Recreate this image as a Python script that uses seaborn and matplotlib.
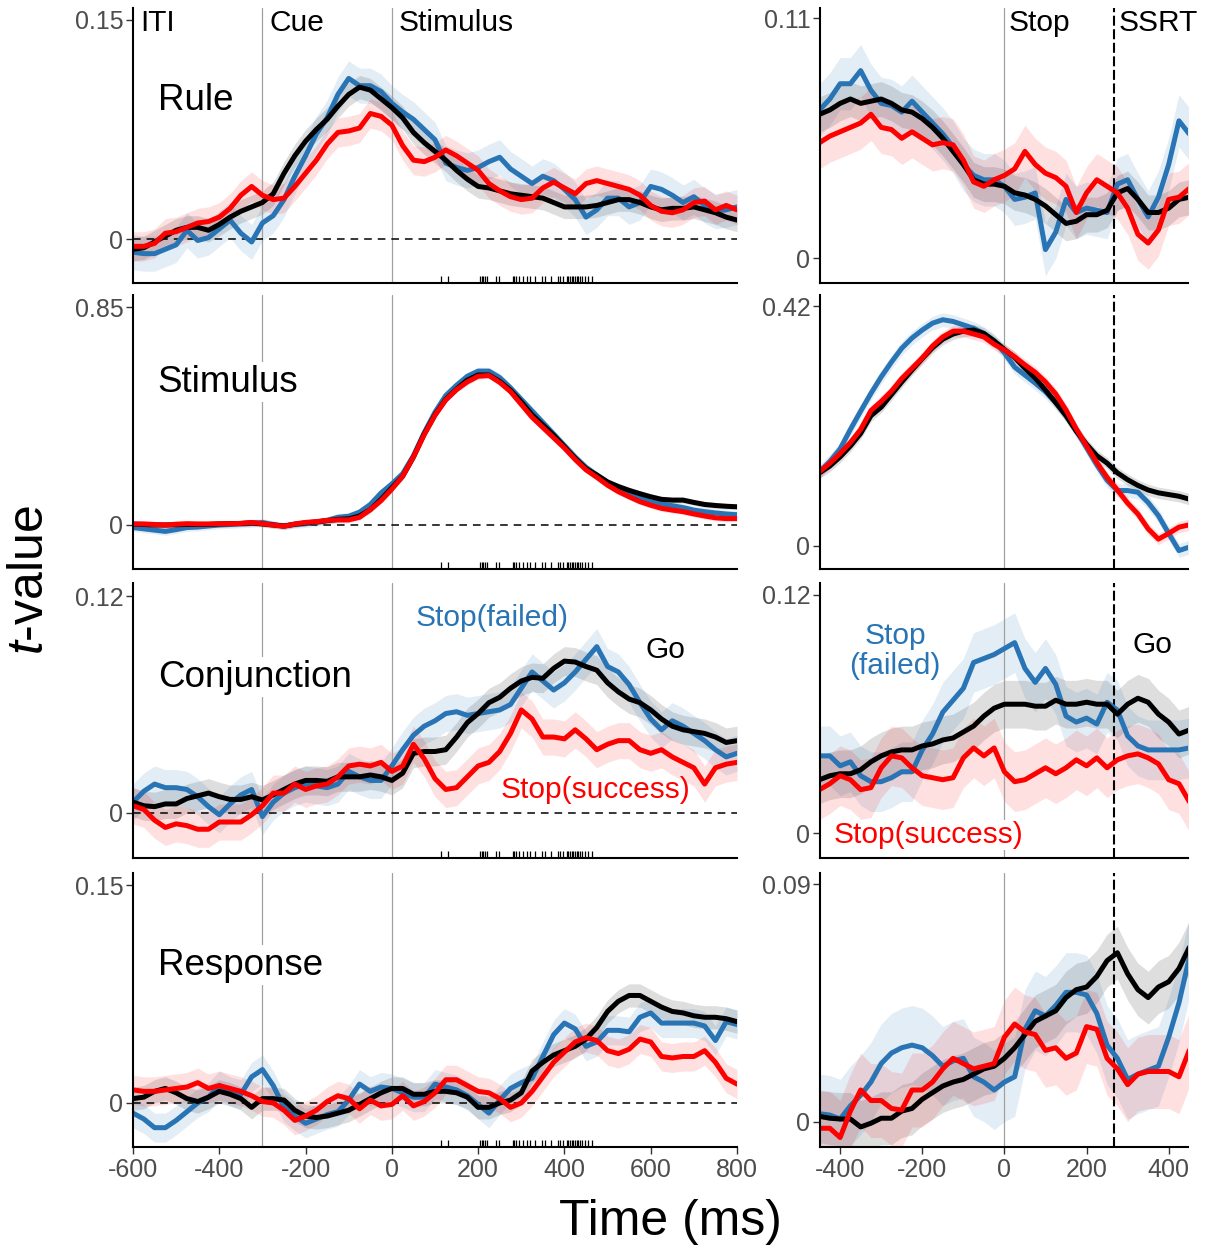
import numpy as np
import pandas as pd
import matplotlib
matplotlib.use("Agg")
import matplotlib.pyplot as plt
import seaborn as sns

sns.set_theme(style="ticks")
plt.rcParams['font.family'] = ['Liberation Sans', 'DejaVu Sans']
plt.rcParams['mathtext.fontset'] = 'custom'
plt.rcParams['mathtext.it'] = 'Liberation Sans:italic'
plt.rcParams['mathtext.rm'] = 'Liberation Sans'
plt.rcParams['axes.unicode_minus'] = False
plt.rcParams['text.color'] = 'black'

# ---------------- data ----------------
time_stim = np.arange(-600, 801, 25)   # stimulus-locked (ms)
time_stop = np.arange(-450, 451, 25)   # stop-signal-locked (ms)

conditions = ["Go", "Stop(failed)", "Stop(success)"]
row_names = ["Rule", "Stimulus", "Conjunction", "Response"]
left_ymax = [0.15, 0.85, 0.12, 0.15]
right_ymax = [0.11, 0.42, 0.12, 0.09]
left_xticks = [-600, -400, -200, 0, 200, 400, 600, 800]
right_xticks = [-400, -200, 0, 200, 400]
event_labels = ["ITI", "Cue", "Stimulus"]
event_times = [-600, -300, 0]
stop_labels = ["Stop", "SSRT"]
ssrt_ms = 266

rug_times = [114, 129, 204, 208, 212, 216, 221, 241, 249, 280, 284, 287, 295, 303,
             314, 320, 331, 347, 355, 370, 384, 389, 396, 405, 409, 413, 417, 420,
             424, 428, 432, 436, 440, 447, 455, 463]

# Left column (stimulus-locked)
rule_go = [-0.007, -0.006, -0.002, 0.002, 0.006, 0.008, 0.008, 0.006, 0.010, 0.015,
           0.019, 0.022, 0.025, 0.031, 0.045, 0.057, 0.067, 0.075, 0.082, 0.091,
           0.099, 0.104, 0.102, 0.096, 0.090, 0.083, 0.073, 0.066, 0.060, 0.054,
           0.047, 0.041, 0.036, 0.035, 0.033, 0.031, 0.030, 0.029, 0.028, 0.025,
           0.022, 0.022, 0.022, 0.023, 0.025, 0.027, 0.027, 0.025, 0.022, 0.020,
           0.021, 0.021, 0.022, 0.020, 0.018, 0.015, 0.013]
rule_fail = [-0.009, -0.010, -0.010, -0.007, -0.004, 0.006, -0.001, 0.001, 0.007, 0.013,
             0.004, -0.002, 0.011, 0.016, 0.027, 0.043, 0.057, 0.072, 0.083, 0.099,
             0.110, 0.105, 0.105, 0.101, 0.093, 0.087, 0.082, 0.075, 0.068, 0.052,
             0.049, 0.047, 0.049, 0.053, 0.056, 0.048, 0.043, 0.038, 0.043, 0.040,
             0.034, 0.027, 0.015, 0.020, 0.028, 0.028, 0.022, 0.025, 0.036, 0.034,
             0.030, 0.025, 0.029, 0.023, 0.019, 0.020, 0.022]
rule_succ = [-0.005, -0.005, -0.003, 0.004, 0.005, 0.008, 0.011, 0.012, 0.015, 0.021,
             0.030, 0.036, 0.030, 0.027, 0.028, 0.036, 0.045, 0.054, 0.065, 0.073,
             0.074, 0.076, 0.086, 0.084, 0.078, 0.064, 0.054, 0.053, 0.056, 0.061,
             0.057, 0.052, 0.047, 0.038, 0.033, 0.029, 0.027, 0.028, 0.035, 0.039,
             0.035, 0.031, 0.038, 0.040, 0.038, 0.036, 0.034, 0.030, 0.023, 0.019,
             0.018, 0.020, 0.025, 0.026, 0.020, 0.023, 0.020]

stim_go = [0.003, 0.002, 0.000, 0.000, 0.001, 0.002, 0.002, 0.002, 0.004, 0.005,
           0.006, 0.008, 0.004, 0.000, -0.004, 0.003, 0.008, 0.012, 0.017, 0.022,
           0.024, 0.035, 0.060, 0.100, 0.145, 0.190, 0.265, 0.355, 0.430, 0.490,
           0.530, 0.565, 0.585, 0.585, 0.560, 0.525, 0.480, 0.430, 0.390, 0.350,
           0.305, 0.260, 0.220, 0.195, 0.168, 0.150, 0.135, 0.122, 0.110, 0.100,
           0.097, 0.097, 0.088, 0.080, 0.076, 0.073, 0.071]
stim_fail = [-0.010, -0.015, -0.020, -0.025, -0.018, -0.010, -0.008, -0.004, 0.000, 0.002,
             0.004, 0.006, 0.010, 0.002, -0.004, 0.002, 0.005, 0.010, 0.018, 0.030,
             0.034, 0.050, 0.080, 0.125, 0.160, 0.200, 0.270, 0.360, 0.440, 0.505,
             0.545, 0.580, 0.600, 0.600, 0.575, 0.535, 0.490, 0.445, 0.400, 0.355,
             0.310, 0.265, 0.225, 0.195, 0.165, 0.140, 0.120, 0.105, 0.090, 0.082,
             0.075, 0.068, 0.058, 0.052, 0.047, 0.043, 0.040]
stim_succ = [0.004, 0.004, 0.002, 0.000, 0.003, 0.005, 0.004, 0.004, 0.005, 0.005,
             0.006, 0.010, 0.005, 0.000, -0.005, 0.004, 0.010, 0.013, 0.018, 0.020,
             0.020, 0.030, 0.060, 0.095, 0.140, 0.190, 0.265, 0.352, 0.428, 0.488,
             0.528, 0.558, 0.580, 0.583, 0.556, 0.520, 0.470, 0.420, 0.380, 0.340,
             0.300, 0.255, 0.215, 0.186, 0.155, 0.130, 0.110, 0.091, 0.077, 0.065,
             0.058, 0.052, 0.043, 0.035, 0.028, 0.025, 0.025]

conj_go = [0.006, 0.004, 0.0035, 0.005, 0.005, 0.008, 0.0095, 0.011, 0.009, 0.0075,
           0.0075, 0.009, 0.0072, 0.010, 0.013, 0.016, 0.018, 0.018, 0.0175, 0.020,
           0.020, 0.020, 0.021, 0.020, 0.018, 0.022, 0.033, 0.034, 0.034, 0.035,
           0.042, 0.050, 0.055, 0.061, 0.064, 0.069, 0.073, 0.075, 0.0745, 0.080,
           0.084, 0.0835, 0.081, 0.079, 0.072, 0.067, 0.063, 0.061, 0.057, 0.052,
           0.048, 0.046, 0.045, 0.044, 0.042, 0.039, 0.040]
conj_fail = [0.006, 0.012, 0.016, 0.014, 0.014, 0.013, 0.009, 0.0035, -0.001, 0.005,
             0.010, 0.013, -0.002, 0.006, 0.011, 0.014, 0.016, 0.015, 0.014, 0.016,
             0.023, 0.020, 0.018, 0.018, 0.026, 0.035, 0.043, 0.048, 0.051, 0.055,
             0.056, 0.054, 0.055, 0.056, 0.057, 0.060, 0.069, 0.078, 0.073, 0.068,
             0.072, 0.078, 0.085, 0.092, 0.081, 0.078, 0.071, 0.061, 0.052, 0.046,
             0.051, 0.048, 0.044, 0.040, 0.035, 0.031, 0.033]
conj_succ = [0.004, 0.002, -0.004, -0.008, -0.006, -0.007, -0.009, -0.009, -0.005, -0.005,
             -0.005, -0.001, 0.004, 0.011, 0.011, 0.016, 0.013, 0.015, 0.016, 0.020,
             0.026, 0.027, 0.026, 0.028, 0.023, 0.026, 0.038, 0.030, 0.019, 0.013,
             0.014, 0.020, 0.026, 0.028, 0.034, 0.044, 0.057, 0.052, 0.042, 0.042,
             0.041, 0.046, 0.041, 0.035, 0.038, 0.040, 0.040, 0.035, 0.033, 0.035,
             0.031, 0.028, 0.025, 0.016, 0.025, 0.027, 0.028]

resp_go = [0.003, 0.004, 0.008, 0.010, 0.007, 0.003, 0.001, 0.004, 0.008, 0.006,
           0.003, -0.003, 0.003, 0.003, 0.002, -0.005, -0.009, -0.010, -0.009, -0.007,
           -0.005, -0.001, 0.003, 0.007, 0.010, 0.010, 0.006, 0.006, 0.008, 0.008,
           0.007, 0.004, -0.003, -0.003, 0.000, 0.002, 0.007, 0.022, 0.028, 0.033,
           0.036, 0.039, 0.044, 0.052, 0.063, 0.070, 0.074, 0.074, 0.070, 0.066,
           0.063, 0.062, 0.060, 0.059, 0.059, 0.058, 0.056]
resp_fail = [-0.007, -0.011, -0.017, -0.017, -0.012, -0.006, 0.000, 0.004, 0.012, 0.008,
             0.006, 0.018, 0.023, 0.012, -0.003, -0.009, -0.014, -0.011, -0.008, -0.006,
             0.002, 0.013, 0.008, 0.011, 0.010, 0.007, 0.004, 0.004, 0.013, 0.011,
             0.009, 0.005, -0.001, -0.007, 0.002, 0.010, 0.014, 0.017, 0.032, 0.047,
             0.055, 0.051, 0.039, 0.042, 0.050, 0.050, 0.049, 0.059, 0.062, 0.055,
             0.055, 0.055, 0.055, 0.053, 0.043, 0.056, 0.054]
resp_succ = [0.009, 0.008, 0.008, 0.009, 0.010, 0.011, 0.014, 0.010, 0.012, 0.010,
             0.008, 0.005, 0.001, 0.000, -0.005, -0.012, -0.009, -0.005, 0.001, 0.005,
             0.003, -0.004, 0.002, -0.002, -0.001, 0.005, -0.002, 0.001, 0.007, 0.016,
             0.016, 0.012, 0.008, 0.007, 0.003, -0.003, 0.000, 0.008, 0.018, 0.028,
             0.035, 0.042, 0.045, 0.043, 0.036, 0.034, 0.037, 0.044, 0.042, 0.032,
             0.031, 0.032, 0.032, 0.036, 0.028, 0.017, 0.013]

# Right column (stop-signal-locked)
srule_go = [0.066, 0.068, 0.071, 0.073, 0.071, 0.072, 0.073, 0.071, 0.068, 0.067,
            0.064, 0.060, 0.055, 0.049, 0.043, 0.036, 0.034, 0.034, 0.033, 0.030,
            0.029, 0.027, 0.024, 0.020, 0.016, 0.017, 0.020, 0.020, 0.022, 0.030,
            0.032, 0.027, 0.021, 0.021, 0.023, 0.027, 0.028]
srule_fail = [0.068, 0.073, 0.080, 0.080, 0.086, 0.077, 0.071, 0.070, 0.067, 0.072,
              0.067, 0.062, 0.057, 0.051, 0.043, 0.038, 0.036, 0.036, 0.033, 0.027,
              0.028, 0.030, 0.004, 0.012, 0.027, 0.021, 0.023, 0.022, 0.021, 0.034,
              0.036, 0.027, 0.019, 0.028, 0.043, 0.063, 0.057]
srule_succ = [0.053, 0.056, 0.058, 0.060, 0.062, 0.066, 0.060, 0.059, 0.055, 0.058,
              0.055, 0.052, 0.053, 0.052, 0.045, 0.035, 0.033, 0.036, 0.038, 0.041,
              0.049, 0.043, 0.039, 0.037, 0.033, 0.021, 0.030, 0.036, 0.033, 0.030,
              0.023, 0.011, 0.007, 0.013, 0.027, 0.028, 0.032]

sstim_go = [0.128, 0.140, 0.156, 0.175, 0.197, 0.228, 0.243, 0.265, 0.287, 0.308,
            0.328, 0.347, 0.362, 0.371, 0.376, 0.378, 0.372, 0.359, 0.344, 0.330,
            0.311, 0.294, 0.273, 0.251, 0.228, 0.201, 0.178, 0.158, 0.145, 0.128,
            0.116, 0.106, 0.098, 0.093, 0.090, 0.087, 0.082]
sstim_fail = [0.130, 0.148, 0.170, 0.204, 0.236, 0.267, 0.296, 0.322, 0.346, 0.364,
              0.378, 0.390, 0.396, 0.393, 0.387, 0.381, 0.372, 0.359, 0.338, 0.313,
              0.299, 0.285, 0.270, 0.251, 0.229, 0.202, 0.172, 0.142, 0.115, 0.097,
              0.097, 0.094, 0.076, 0.053, 0.022, -0.008, -0.002]
sstim_succ = [0.130, 0.145, 0.162, 0.181, 0.204, 0.237, 0.253, 0.271, 0.293, 0.311,
              0.329, 0.350, 0.366, 0.376, 0.376, 0.371, 0.366, 0.353, 0.343, 0.331,
              0.317, 0.304, 0.287, 0.266, 0.238, 0.205, 0.175, 0.146, 0.120, 0.098,
              0.075, 0.056, 0.030, 0.012, 0.022, 0.033, 0.037]

sconj_go = [0.027, 0.029, 0.030, 0.030, 0.032, 0.036, 0.039, 0.041, 0.042, 0.042,
            0.044, 0.045, 0.047, 0.048, 0.051, 0.054, 0.059, 0.063, 0.065, 0.065,
            0.065, 0.064, 0.064, 0.067, 0.065, 0.065, 0.066, 0.065, 0.065, 0.060,
            0.065, 0.068, 0.066, 0.060, 0.056, 0.050, 0.052]
sconj_fail = [0.039, 0.039, 0.034, 0.036, 0.029, 0.026, 0.026, 0.028, 0.031, 0.031,
              0.042, 0.050, 0.061, 0.067, 0.073, 0.086, 0.088, 0.090, 0.093, 0.096,
              0.083, 0.076, 0.083, 0.075, 0.059, 0.056, 0.058, 0.055, 0.066, 0.062,
              0.049, 0.044, 0.042, 0.042, 0.042, 0.042, 0.043]
sconj_succ = [0.022, 0.025, 0.029, 0.027, 0.022, 0.023, 0.033, 0.039, 0.038, 0.033,
              0.029, 0.028, 0.027, 0.028, 0.038, 0.043, 0.039, 0.043, 0.031, 0.026,
              0.027, 0.030, 0.033, 0.030, 0.033, 0.037, 0.034, 0.038, 0.033, 0.037,
              0.039, 0.040, 0.038, 0.035, 0.027, 0.025, 0.016]

sresp_go = [0.002, 0.0013, 0.001, 0.001, -0.002, -0.0006, 0.0013, 0.0013, 0.004, 0.005,
            0.0085, 0.011, 0.0135, 0.015, 0.016, 0.018, 0.020, 0.021, 0.024, 0.028,
            0.033, 0.038, 0.040, 0.042, 0.047, 0.050, 0.051, 0.055, 0.061, 0.064,
            0.056, 0.050, 0.047, 0.051, 0.053, 0.058, 0.066]
sresp_fail = [0.003, 0.0025, 0.001, 0.006, 0.010, 0.015, 0.022, 0.026, 0.028, 0.029,
              0.028, 0.025, 0.021, 0.023, 0.024, 0.017, 0.015, 0.012, 0.015, 0.017,
              0.035, 0.042, 0.040, 0.044, 0.049, 0.049, 0.048, 0.041, 0.029, 0.024,
              0.016, 0.018, 0.0195, 0.021, 0.032, 0.045, 0.062]
sresp_succ = [-0.0025, -0.0025, -0.006, 0.004, 0.012, 0.008, 0.008, 0.005, 0.0044, 0.012,
              0.012, 0.015, 0.020, 0.024, 0.022, 0.020, 0.021, 0.022, 0.032, 0.037,
              0.034, 0.033, 0.027, 0.028, 0.024, 0.026, 0.036, 0.035, 0.024, 0.020,
              0.014, 0.018, 0.019, 0.019, 0.019, 0.017, 0.027]

# ribbon half-widths (Go, Stop(failed), Stop(success))
left_se = [[0.008, 0.012, 0.010], [0.012, 0.015, 0.012], [0.008, 0.010, 0.010], [0.008, 0.010, 0.010]]
right_se = [[0.008, 0.012, 0.012], [0.010, 0.012, 0.010], [0.012, 0.015, 0.015], [0.010, 0.015, 0.014]]

left_series = [(rule_go, rule_fail, rule_succ), (stim_go, stim_fail, stim_succ),
               (conj_go, conj_fail, conj_succ), (resp_go, resp_fail, resp_succ)]
right_series = [(srule_go, srule_fail, srule_succ), (sstim_go, sstim_fail, sstim_succ),
                (sconj_go, sconj_fail, sconj_succ), (sresp_go, sresp_fail, sresp_succ)]

# ---------------- style / layout ----------------
palette = {"Go": "#000000", "Stop(failed)": "#2874b4", "Stop(success)": "#ff0000"}
ribbon_alpha = {"Go": 0.13, "Stop(failed)": 0.13, "Stop(success)": 0.12}
draw_order = ["Stop(failed)", "Go", "Stop(success)"]

W, H = 1206, 1251
row_px = [(8, 283), (295, 569), (583, 858), (873, 1147)]
left_px = (133, 737)
right_px = (820, 1188)
left_ylims = [(-0.0301, 0.1582), (-0.1716, 0.8968), (-0.0249, 0.1272), (-0.0303, 0.1583)]
right_ylims = [(-0.0113, 0.1147), (-0.0403, 0.4393), (-0.0124, 0.1260), (-0.0096, 0.0942)]
row_label_y = [0.665, 0.682, 0.658, 0.664]

TICK_COL = "#4d4d4d"

fig = plt.figure(figsize=(W / 100, H / 100), dpi=100)


def rect(xpx, ypx):
    return [xpx[0] / W, 1 - ypx[1] / H, (xpx[1] - xpx[0]) / W, (ypx[1] - ypx[0]) / H]


def draw_panel(ax, t, series, se, xlim, ylim, ymax, left, bottom):
    vals = dict(zip(conditions, series))
    for cond, s in zip(conditions, se):
        y = np.asarray(vals[cond], dtype=float)
        ax.fill_between(t, y - s, y + s, color=palette[cond], alpha=ribbon_alpha[cond],
                        lw=0, zorder=1)
    if left:
        for v in [-300, 0]:
            ax.axvline(v, color="#a0a0a0", lw=0.9, zorder=1.5)
        ax.axhline(0, color="black", lw=1.1, ls=(0, (5, 3.9)), zorder=1.6)
    else:
        ax.axvline(0, color="#a0a0a0", lw=0.9, zorder=1.5)
        ax.axvline(ssrt_ms, color="black", lw=1.5, ls=(0, (4.8, 1.7)), zorder=1.6)
    df = pd.DataFrame({
        "time": np.tile(t, 3),
        "tval": np.concatenate([np.asarray(vals[c], dtype=float) for c in conditions]),
        "cond": np.repeat(conditions, len(t)),
    })
    sns.lineplot(data=df, x="time", y="tval", hue="cond", hue_order=draw_order,
                 palette=palette, linewidth=3.6, legend=False, ax=ax,
                 estimator=None, zorder=2)
    if left:
        sns.rugplot(x=rug_times, ax=ax, height=0.026, color="black", linewidth=0.9,
                    expand_margins=False)
    ax.set_xlim(*xlim)
    ax.set_ylim(*ylim)
    ax.set_yticks([0, ymax])
    ax.set_yticklabels(["0", f"{ymax:g}"])
    ax.set_xlabel("")
    ax.set_ylabel("")
    for sp in ["top", "right"]:
        ax.spines[sp].set_visible(False)
    for sp in ["left", "bottom"]:
        ax.spines[sp].set_color("black")
        ax.spines[sp].set_linewidth(1.5)
    ax.tick_params(axis="y", length=5, width=1, color="#333333", labelsize=18,
                   labelcolor=TICK_COL, pad=2)
    if bottom:
        ax.set_xticks(left_xticks if left else right_xticks)
        ax.set_xticklabels([str(v) for v in (left_xticks if left else right_xticks)])
        ax.tick_params(axis="x", length=5, width=1, color="#333333", labelsize=18,
                       labelcolor=TICK_COL, pad=3)
    else:
        ax.set_xticks([])
    ax.set_facecolor("white")


axes_left, axes_right = [], []
for i in range(4):
    axl = fig.add_axes(rect(left_px, row_px[i]))
    draw_panel(axl, time_stim, left_series[i], left_se[i], (-600, 800), left_ylims[i],
               left_ymax[i], True, i == 3)
    axl.text(0.041, row_label_y[i], row_names[i], transform=axl.transAxes, fontsize=26.5,
             ha="left", va="center", zorder=3, color="black",
             bbox=dict(facecolor="white", edgecolor="none", pad=1.5))
    axes_left.append(axl)

    axr = fig.add_axes(rect(right_px, row_px[i]))
    draw_panel(axr, time_stop, right_series[i], right_se[i], (-449, 447), right_ylims[i],
               right_ymax[i], False, i == 3)
    axes_right.append(axr)

# event labels on top row
ax0 = axes_left[0]
for lab, tm in zip(event_labels, event_times):
    ax0.text(tm + 16, 0.945, lab, transform=ax0.get_xaxis_transform(), fontsize=21.5,
             ha="left", va="center", color="black")
axr0 = axes_right[0]
for lab, tm in zip(stop_labels, [0, ssrt_ms]):
    axr0.text(tm + 11, 0.945, lab, transform=axr0.get_xaxis_transform(), fontsize=21.5,
              ha="left", va="center", color="black")

# condition labels
axc = axes_left[2]
axc.text(233, 0.108, "Stop(failed)", color=palette["Stop(failed)"], fontsize=21.5,
         ha="center", va="center")
axc.text(633, 0.090, "Go", color="black", fontsize=21.5, ha="center", va="center")
axc.text(473, 0.0127, "Stop(success)", color=palette["Stop(success)"], fontsize=21.5,
         ha="center", va="center", zorder=3)

axrc = axes_right[2]
axrc.text(-266, 0.0918, "Stop\n(failed)", color=palette["Stop(failed)"], fontsize=21.5,
          ha="center", va="center", linespacing=1.1)
axrc.text(361, 0.0948, "Go", color="black", fontsize=21.5, ha="center", va="center")
axrc.text(-185, -0.0008, "Stop(success)", color=palette["Stop(success)"], fontsize=21.5,
          ha="center", va="center", zorder=3,
          bbox=dict(facecolor="white", edgecolor="none", pad=0.5))

fig.text(0.025, 0.536, r"$t$-value", rotation=90, fontsize=36, ha="center", va="center",
         color="black")
fig.text(0.556, 0.023, "Time (ms)", fontsize=36, ha="center", va="center", color="black")

fig.savefig("out.png", dpi=100, facecolor="white")
